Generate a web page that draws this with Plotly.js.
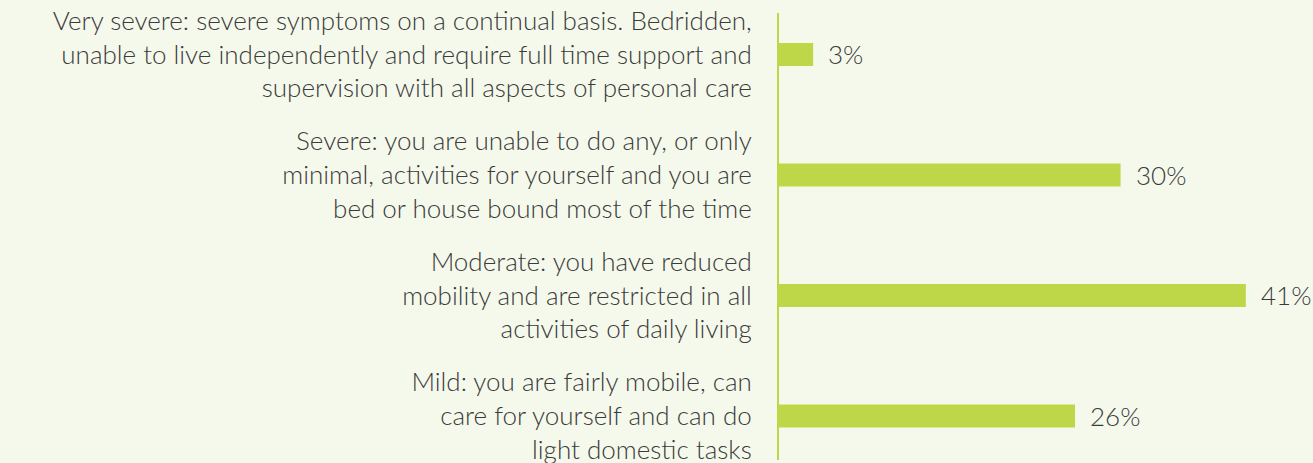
<!DOCTYPE html>
<html>
<head>
<meta charset="utf-8">
<script src="https://cdn.plot.ly/plotly-3.0.1.min.js"></script>
<style>html,body{margin:0;padding:0;background:#f5f9eb;}</style>
</head>
<body>
<div id="chart" style="width:1313px;height:463px;"></div>
<script>
const categories = [
  "Very severe: severe symptoms on a continual basis. Bedridden,<br>unable to live independently and require full time support and<br>supervision with all aspects of personal care",
  "Severe: you are unable to do any, or only<br>minimal, activities for yourself and you are<br>bed or house bound most of the time",
  "Moderate: you have reduced<br>mobility and are restricted in all<br>activities of daily living",
  "Mild: you are fairly mobile, can<br>care for yourself and can do<br>light domestic tasks"
];
const values = [3, 30, 41, 26];
const valueLabels = ["3%", "30%", "41%", "26%"];

const green = "#bed748";
const textColor = "#3b3b3b";
const fontFamily = "Lato, 'Open Sans', sans-serif";

const trace = {
  type: "bar",
  orientation: "h",
  y: categories,
  x: values,
  marker: {color: green},
  width: 0.19,
  hoverinfo: "none"
};

const annotations = values.map((v, i) => ({
  x: v, y: categories[i], xref: "x", yref: "y",
  text: valueLabels[i], showarrow: false,
  xanchor: "left", yanchor: "middle", xshift: 13,
  font: {family: fontFamily, size: 26, weight: 300, color: textColor}
}));

const layout = {
  width: 1313, height: 463,
  margin: {l: 779, r: 0, t: 13, b: 3},
  paper_bgcolor: "#f5f9eb",
  plot_bgcolor: "#f5f9eb",
  showlegend: false,
  xaxis: {range: [0, 46.9], visible: false, fixedrange: true},
  yaxis: {
    type: "category",
    categoryorder: "array", categoryarray: categories,
    range: [3.365, -0.344],
    showline: true, linecolor: green, linewidth: 2,
    showgrid: false, zeroline: false,
    ticks: "outside", ticklen: 20, tickcolor: "rgba(0,0,0,0)",
    tickfont: {family: fontFamily, size: 26, weight: 300, color: textColor}
  },
  annotations: annotations
};

Plotly.newPlot("chart", [trace], layout, {displayModeBar: false, staticPlot: true});
</script>
</body>
</html>
